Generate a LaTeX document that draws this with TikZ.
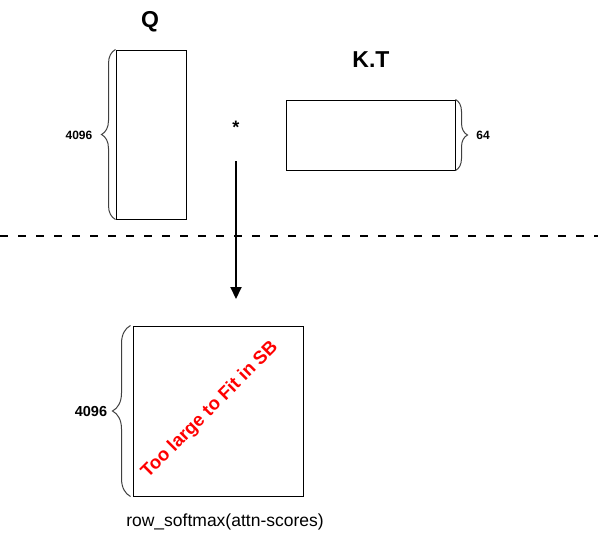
\documentclass[tikz,border=0pt]{standalone}
\usepackage{fontspec}
\setmainfont{Liberation Sans}
\usetikzlibrary{arrows.meta,decorations.pathreplacing}
\begin{document}
\begin{tikzpicture}[x=1pt,y=-1pt,
  box/.style={draw=black,line width=1pt,inner sep=0pt},
  brc/.style={draw=black!75,line width=1pt,decorate,decoration={brace,amplitude=#1}},
  dimlbl/.style={font=\bfseries\fontsize{12}{13}\selectfont,inner sep=0pt},
  title/.style={font=\bfseries\fontsize{23}{25}\selectfont,inner sep=0pt}]
\useasboundingbox (0,0) rectangle (598,541);
% Q
\node[box,minimum width=70pt,minimum height=169pt] (q) at (151,134.5) {};
\node[title] (qt) at (150,22) {Q};
\draw[brc=14pt] (q.south west) -- (q.north west);
\node[dimlbl] (q4096) at (79,135) {4096};
% K.T
\node[box,minimum width=169pt,minimum height=70pt] (k) at (370.5,135) {};
\node[title] (kt) at (371,60) {K.T};
\draw[brc=12pt] (k.north east) -- (k.south east);
\node[dimlbl] (k64) at (483,135) {64};
% multiply
\node[font=\bfseries\fontsize{18}{20}\selectfont,inner sep=0pt] (star) at (236,127) {*};
% dashed separator
\coordinate (dl) at (0,236);
\coordinate (dr) at (598,236);
\draw[line width=2.5pt,dash pattern=on 8pt off 10pt] (dl) -- (dr);
% arrow
\coordinate (a1) at (236,161);
\coordinate (a2) at (236,299);
\draw[line width=2pt,-{Triangle[width=11pt,length=12pt]}] (a1) -- (a2);
% result
\node[box,minimum width=170pt,minimum height=170pt] (r) at (218,411) {};
\draw[brc=18pt] ([xshift=-2pt]r.south west) -- ([xshift=-2pt]r.north west);
\node[font=\bfseries\fontsize{14.5}{16}\selectfont,inner sep=0pt] (r4096) at (91,412) {4096};
\node[rotate=45,text=red,font=\bfseries\fontsize{18.5}{20}\selectfont,inner sep=0pt] (warn) at (210,410) {Too large to Fit in SB};
\node[font=\fontsize{17.5}{19}\selectfont,inner sep=0pt] (rl) at (225,522) {row\_softmax(attn-scores)};
\end{tikzpicture}
\end{document}
